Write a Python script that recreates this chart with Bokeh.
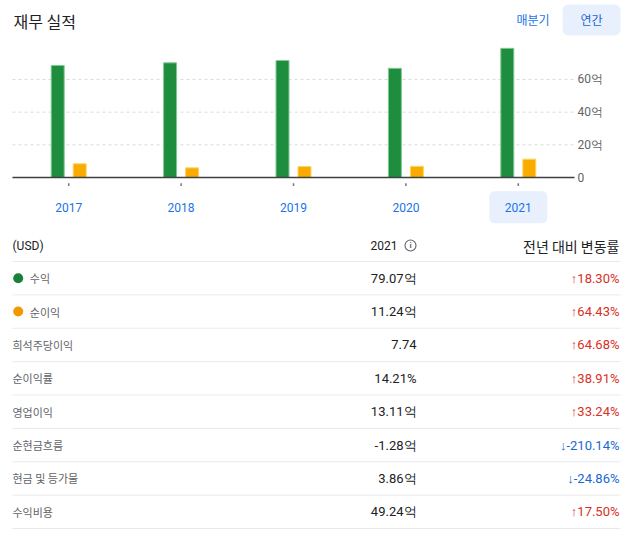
from bokeh.plotting import figure
from bokeh.models import Range1d, ColumnDataSource
from bokeh.transform import dodge
from bokeh.core.properties import value
from bokeh.embed import file_html
from bokeh.resources import INLINE

# ---------------- data ----------------
years = ["2017", "2018", "2019", "2020", "2021"]
revenue = [68.6, 70.2, 71.6, 66.84, 79.07]      # 억 USD
net_income = [8.4, 5.9, 6.7, 6.84, 11.24]       # 억 USD
y_ticks = [0, 20, 40, 60]
y_tick_labels = ["0", "20억", "40억", "60억"]
selected_year = ["2021"]

metrics = ["수익", "순이익", "희석주당이익", "순이익률", "영업이익", "순현금흐름", "현금 및 등가물", "수익비용"]
values_2021 = ["79.07억", "11.24억", "7.74", "14.21%", "13.11억", "-1.28억", "3.86억", "49.24억"]
yoy_change = [18.30, 64.43, 64.68, 38.91, 33.24, -210.14, -24.86, 17.50]
legend_colors = ["#188038", "#f29900", None, None, None, None, None, None]

# ---------------- layout constants ----------------
W, H = 629, 533
KR = value("Noto Sans CJK KR")
RB = value("Roboto")

CAT = 562 / 5.0                 # px per year
X0 = 12.0                       # left edge of the chart, px
PX = 32.67 / 20.0               # px per 억
BASE = 177.0                    # baseline, px from top
ROW = 33.375                    # table row height
LINE0 = 261.0                   # first table separator, px from top

year_num = [int(y) for y in years]
x_start = year_num[0] - 0.5 - X0 / CAT

p = figure(width=W, height=H, output_backend="svg", toolbar_location=None, title=None,
           x_range=Range1d(x_start, x_start + W / CAT),
           y_range=Range1d(-(H - BASE) / PX, BASE / PX),
           x_axis_type=None, y_axis_type=None, min_border=0)
p.extra_x_ranges = {"px": Range1d(0, W)}
p.extra_y_ranges = {"py": Range1d(H, 0),
                    "row": Range1d((H - LINE0) / ROW, -LINE0 / ROW)}
p.grid.visible = False
p.outline_line_color = None

# ---------------- header ----------------
p.text(x=[13], y=[20], text=["재무 실적"], text_font=KR, text_font_size="16px",
       text_baseline="middle", text_color="#202124", x_range_name="px", y_range_name="py")
p.text(x=[516], y=[18.5], text=["매분기"], text_font=KR, text_font_size="12px",
       text_baseline="middle", text_color="#1a73e8", x_range_name="px", y_range_name="py")
p.quad(left=[562], right=[620], top=[4], bottom=[35], fill_color="#e8f0fe",
       line_color=None, border_radius=6, x_range_name="px", y_range_name="py")
p.text(x=[591], y=[18.5], text=["연간"], text_font=KR, text_font_size="12px",
       text_align="center", text_baseline="middle", text_color="#1967d2",
       x_range_name="px", y_range_name="py")

# ---------------- chart ----------------
src = ColumnDataSource(dict(year=year_num, label=years, revenue=revenue, net=net_income))
sel = ColumnDataSource(dict(year=[int(y) for y in selected_year]))
x_lo, x_hi = year_num[0] - 0.5, year_num[-1] + 0.5

grid_vals = y_ticks[1:]
p.segment(x0=[x_lo] * len(grid_vals), x1=[x_hi] * len(grid_vals), y0=grid_vals, y1=grid_vals,
          line_color="#dadce0", line_dash="3 3", line_width=1)
p.text(x=[x_hi] * len(y_ticks), y=y_ticks, text=y_tick_labels, text_font=RB, x_offset=3,
       text_font_size="12px", text_baseline="middle", text_color="#5f6368")

p.vbar(x=dodge("year", -11 / CAT), top="revenue", bottom=0, width=13 / CAT, source=src,
       fill_color="#1e8e3e", line_color="#81c995", line_width=1)
p.vbar(x=dodge("year", 11 / CAT), top="net", bottom=0, width=13 / CAT, source=src,
       fill_color="#f9ab00", line_color="#fdd663", line_width=1)
p.segment(x0=[x_lo], x1=[x_hi], y0=[0], y1=[0], line_color="#3c4043", line_width=1.6)
p.segment(x0="year", x1="year", y0=-5.8 / PX, y1=-8.6 / PX, source=src,
          line_color="#70757a", line_width=1.5)
p.rect(x="year", y=-29.8 / PX, width=58, height=32, width_units="screen",
       height_units="screen", source=sel, fill_color="#e8f0fe", line_color=None, border_radius=5)
p.text(x="year", y=-29.8 / PX, text="label", source=src, text_font=RB, text_font_size="12px",
       text_align="center", text_baseline="middle", text_color="#1a73e8")

# ---------------- table ----------------
hy = (245 - LINE0) / ROW
p.text(x=[12], y=[hy], text=["(USD)"], text_font=RB, text_font_size="12px",
       text_baseline="middle", text_color="#202124", x_range_name="px", y_range_name="row")
p.text(x=[397], y=[hy], text=["2021"], text_font=RB, text_font_size="12px",
       text_align="right", text_baseline="middle", text_color="#202124",
       x_range_name="px", y_range_name="row")
p.scatter(x=[410], y=[hy], size=11, marker="circle", fill_color=None,
          line_color="#5f6368", line_width=1.1, x_range_name="px", y_range_name="row")
p.text(x=[410], y=[hy], text=["i"], text_font=RB, text_font_size="8px", text_font_style="bold",
       text_align="center", text_baseline="middle", text_color="#5f6368",
       x_range_name="px", y_range_name="row")
p.text(x=[619], y=[hy], text=["전년 대비 변동률"], text_font=KR, text_font_size="14px",
       text_align="right", text_baseline="middle", text_color="#202124",
       x_range_name="px", y_range_name="row")

n = len(metrics)
p.segment(x0=[12] * (n + 1), x1=[620] * (n + 1), y0=list(range(n + 1)), y1=list(range(n + 1)),
          line_color="#e8eaed", line_width=1, x_range_name="px", y_range_name="row")

rows_y = [i + 0.5 for i in range(n)]
dot_x, dot_y, dot_c, lab_x = [], [], [], []
for i, c in enumerate(legend_colors):
    if c:
        dot_x.append(17.7); dot_y.append(rows_y[i]); dot_c.append(c)
        lab_x.append(29.3)
    else:
        lab_x.append(12)
p.scatter(x=dot_x, y=dot_y, size=10, marker="circle", fill_color=dot_c, line_color=None,
          x_range_name="px", y_range_name="row")
p.text(x=lab_x, y=rows_y, text=metrics, text_font=KR, text_font_size="11px",
       text_baseline="middle", text_color="#5f6368", x_range_name="px", y_range_name="row")
p.text(x=[416] * n, y=rows_y, text=values_2021, text_font=RB, text_font_size="13px",
       text_align="right", text_baseline="middle", text_color="#202124",
       x_range_name="px", y_range_name="row")
chg_text = [("↑" if v >= 0 else "↓") + f"{v:.2f}%" for v in yoy_change]
chg_col = ["#d93025" if v >= 0 else "#1967d2" for v in yoy_change]
p.text(x=[619] * n, y=rows_y, text=chg_text, text_font=RB, text_font_size="13px",
       text_align="right", text_baseline="middle", text_color=chg_col,
       x_range_name="px", y_range_name="row")

open("out.html", "w").write(file_html(p, INLINE))
